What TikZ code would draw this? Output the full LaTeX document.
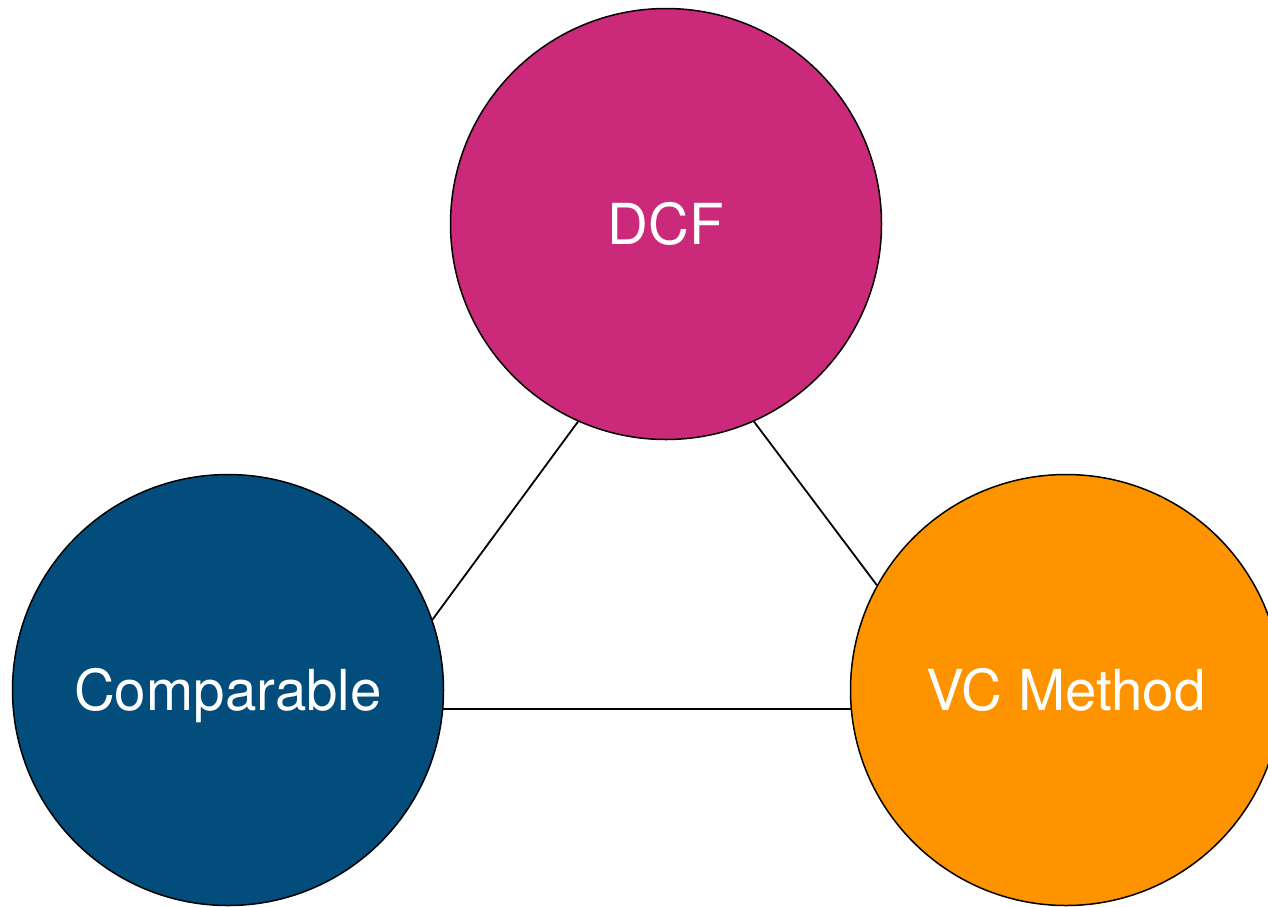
\documentclass[tikz,border=0pt]{standalone}
\usepackage{fontspec}
\setmainfont{TeX Gyre Heros}
\definecolor{dcfc}{HTML}{CB2A7B}
\definecolor{compc}{HTML}{024D7C}
\definecolor{vcc}{HTML}{FE9300}
\begin{document}
\begin{tikzpicture}[x=1pt,y=-1pt,
  bubble/.style={circle,draw=black,line width=1.5pt,minimum size=431pt,inner sep=0pt,
    text height=40pt,text depth=0pt,
    text=white,font=\fontsize{56.5}{60}\selectfont},
  link/.style={draw=black,line width=1.8pt}]
\useasboundingbox (0,0) rectangle (1268,906);
\node[bubble,fill=dcfc] (dcf) at (666,224) {DCF};
\node[bubble,fill=compc] (comp) at (228,690) {Comparable};
\node[bubble,fill=vcc] (vc) at (1066,690) {VC Method};
\draw[link] (dcf.246) -- (comp.19.4);
\draw[link] (dcf.294) -- (vc.151);
\draw[link] (comp.-5) -- (vc.185);
\end{tikzpicture}
\end{document}
